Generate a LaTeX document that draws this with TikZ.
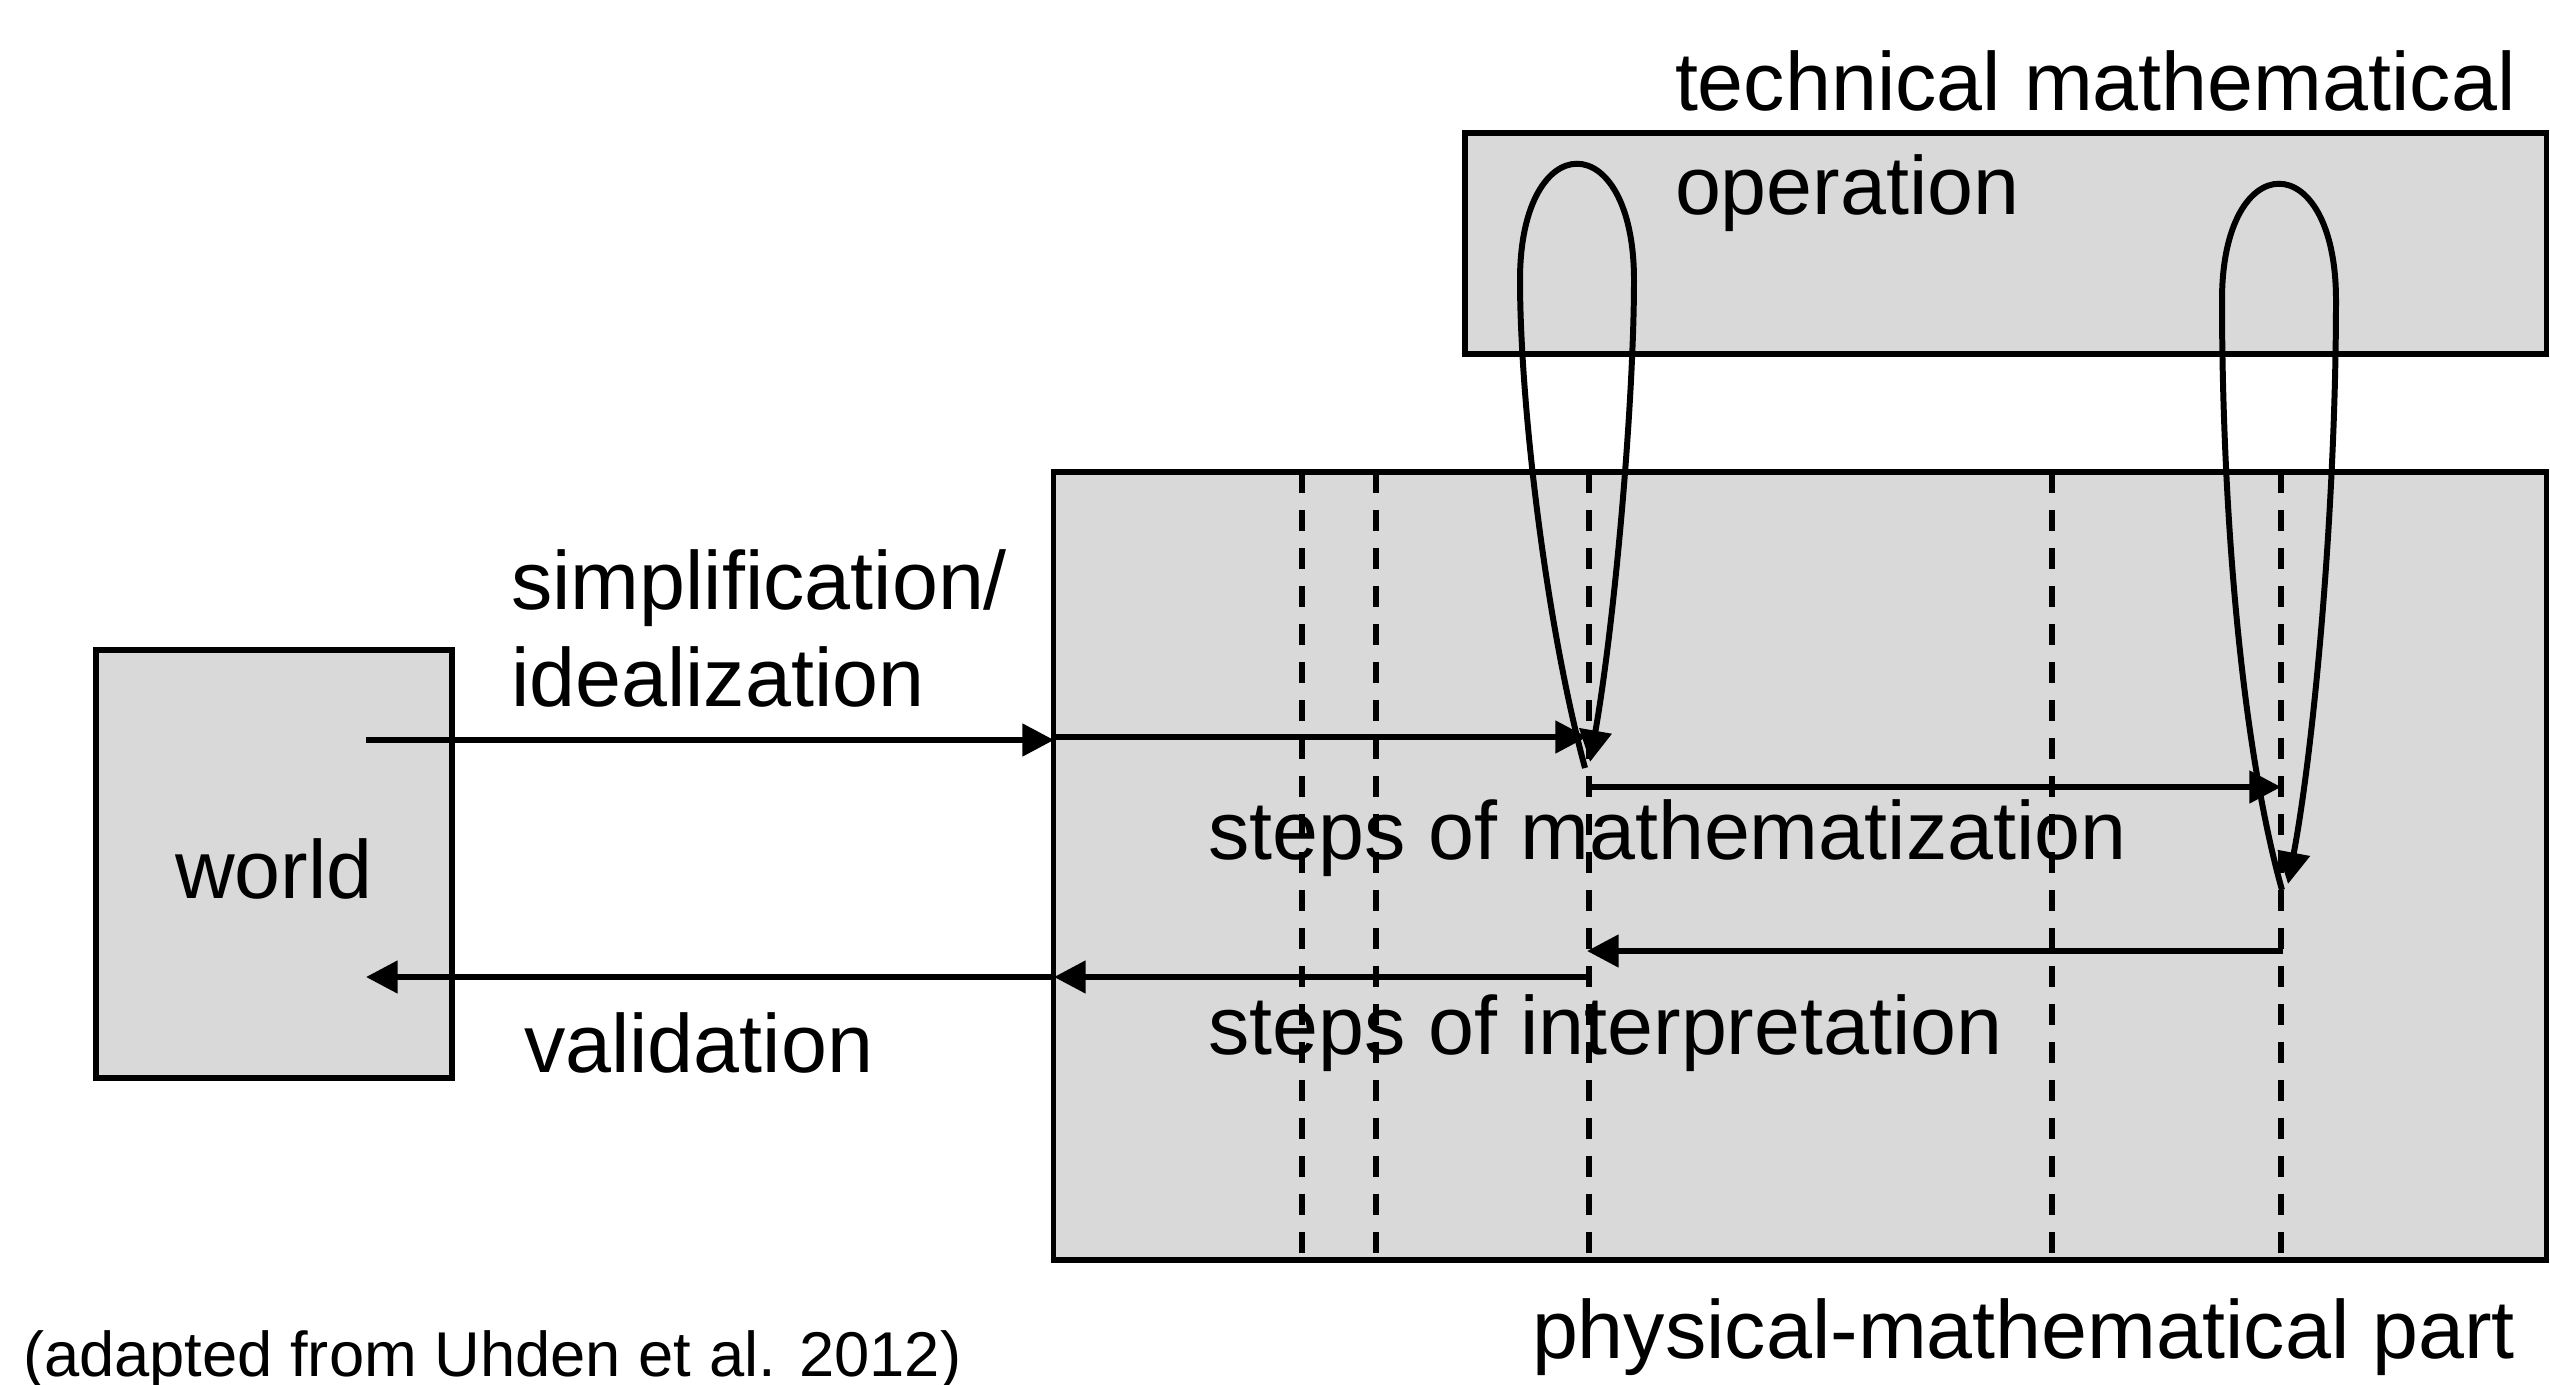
\documentclass[tikz,border=0pt]{standalone}
\usepackage{fontspec}
\setmainfont{Liberation Sans}
\usetikzlibrary{arrows.meta}
\definecolor{boxgray}{HTML}{D9D9D9}
\begin{document}
\begin{tikzpicture}[x=0.01cm,y=-0.01cm,
  box/.style={draw=black, fill=boxgray, line width=1.6pt, inner sep=0pt, outer sep=0pt},
  lbl/.style={anchor=base west, inner sep=0pt, outer sep=0pt, font=\fontsize{23.5}{28}\selectfont},
  small/.style={anchor=base west, inner sep=0pt, outer sep=0pt, font=\fontsize{18}{22}\selectfont},
  conn/.style={line width=1.7pt, -{Triangle[length=9pt,width=9pt]}},
  guide/.style={line width=1.6pt, dash pattern=on 6pt off 4.8pt}
]
\useasboundingbox (0,0) rectangle (2550,1385);

% boxes
\node[box, minimum width=3.56cm, minimum height=4.28cm] (world) at (274,864) {};
\node[box, minimum width=14.92cm, minimum height=7.88cm] (phys) at (1800,866) {};
\node[box, minimum width=10.81cm, minimum height=2.21cm] (tech) at (2005.5,243.5) {};

% dashed guides
\foreach \gx in {1302,1376,1589,2052,2281}
  \draw[guide] (\gx,472) -- (\gx,1260);

% named points
\coordinate (s0) at (366,740);
\coordinate (s1) at (1054,740);
\coordinate (s2) at (1054,737);
\coordinate (s3) at (1587,737);
\coordinate (b1) at (1585,768);
\coordinate (e1) at (1590,762);
\coordinate (m0) at (1589,787);
\coordinate (m1) at (2281,787);
\coordinate (b2) at (2282,890);
\coordinate (e2) at (2288,884);
\coordinate (i0) at (2283,951);
\coordinate (i1) at (1587,951);
\coordinate (v0) at (1589,977);
\coordinate (v1) at (1054,977);
\coordinate (v2) at (366,977);

% connectors
\draw[conn] (s0) -- (s1);
\draw[conn] (s2) -- (s3);
\draw[conn] (b1) .. controls (1545,620) and (1520,400) .. (1520,280)
  .. controls (1520,125) and (1634,125) .. (1634,280)
  .. controls (1634,400) and (1615,620) .. (e1);
\draw[conn] (m0) -- (m1);
\draw[conn] (b2) .. controls (2240,740) and (2222,500) .. (2222,300)
  .. controls (2222,145) and (2336,145) .. (2336,300)
  .. controls (2336,500) and (2315,740) .. (e2);
\draw[conn] (i0) -- (i1);
\draw[conn] (v0) -- (v1);
\draw[conn] (v1) -- (v2);

% labels
\node[lbl] (techA) at (1675,111) {technical mathematical};
\node[lbl] (techB) at (1675,215) {operation};
\node[lbl] (simpA) at (511,610) {simplification/};
\node[lbl] (simpB) at (511,706) {idealization};
\node[lbl, anchor=base] (worldlbl) at (274,898) {world};
\node[lbl] (math) at (1208,859) {steps of mathematization};
\node[lbl] (interp) at (1208,1054) {steps of interpretation};
\node[lbl] (valid) at (524,1072) {validation};
\node[lbl] (physlbl) at (1532,1358) {physical-mathematical part};
\node[small] (cap) at (23,1376) {(adapted from Uhden et al. 2012)};
\end{tikzpicture}
\end{document}
